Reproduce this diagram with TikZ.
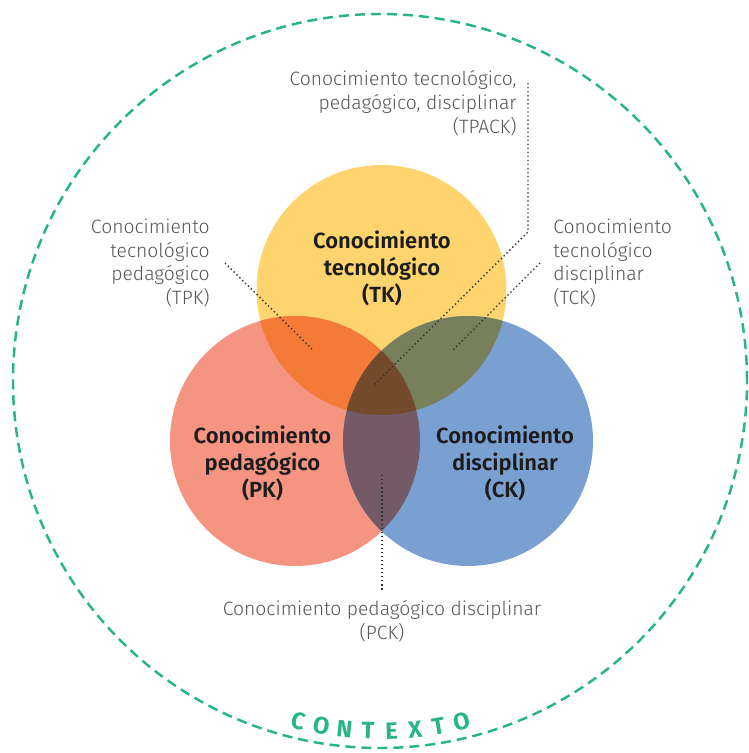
\documentclass[tikz,border=0pt]{standalone}
\usepackage{fontspec}
\setmainfont{Fira Sans}[UprightFont=* Light, BoldFont=* SemiBold]
\newfontfamily\ctxfont{Fira Sans}[UprightFont=* Bold]

\definecolor{tkyellow}{HTML}{FDD46E}
\definecolor{pkred}{HTML}{F59481}
\definecolor{ckblue}{HTML}{7AA0D2}
\definecolor{tpkorange}{HTML}{F37B37}
\definecolor{tckolive}{HTML}{77805A}
\definecolor{pckplum}{HTML}{735A66}
\definecolor{tpackbrown}{HTML}{744A2D}
\definecolor{ctxgreen}{HTML}{27B585}
\definecolor{labelgray}{HTML}{555555}
\definecolor{areatext}{HTML}{1C1C1C}

\begin{document}
\begin{tikzpicture}[
  area/.style={text=areatext, align=center, font=\fontsize{12.5}{15.3}\selectfont\bfseries},
  lbl/.style={text=labelgray, inner sep=0pt, font=\fontsize{11}{13.6}\selectfont},
  leader/.style={draw=black!80, line width=0.8pt, dash pattern=on 0.8pt off 1.5pt},
  ctx/.style={text=ctxgreen, inner sep=0pt, font=\fontsize{13.5}{15}\ctxfont}
]
\useasboundingbox (-7.6,-7.44) rectangle (7.38,7.62);

% Context
\draw[ctxgreen, line width=1.4pt, dash pattern=on 5.7pt off 3.4pt] (0,0) circle (7.34);

% Circle centres
\coordinate (tk) at (0.03, 1.82);
\coordinate (pk) at (-1.70, -1.2);
\coordinate (ck) at (1.76, -1.2);

\fill[tkyellow] (tk) circle (2.5);
\fill[pkred] (pk) circle (2.5);
\fill[ckblue] (ck) circle (2.5);

% Pairwise overlaps
\begin{scope}
  \clip (tk) circle (2.5);
  \fill[tpkorange] (pk) circle (2.5);
  \fill[tckolive] (ck) circle (2.5);
\end{scope}
\begin{scope}
  \clip (pk) circle (2.5);
  \fill[pckplum] (ck) circle (2.5);
\end{scope}
% Triple overlap
\begin{scope}
  \clip (tk) circle (2.5);
  \clip (pk) circle (2.5);
  \fill[tpackbrown] (ck) circle (2.5);
\end{scope}

% Circle labels
\node[area] (tklabel) at (0.04, 2.26) {Conocimiento\\tecnológico\\(TK)};
\node[area] (pklabel) at (-2.35, -1.64) {Conocimiento\\pedagógico\\(PK)};
\node[area] (cklabel) at (2.5, -1.64) {Conocimiento\\disciplinar\\(CK)};

% Outer labels
\node[lbl, anchor=east, align=right] (tpack) at (2.74, 5.55) {Conocimiento tecnológico,\\pedagógico, disciplinar\\(TPACK)};
\node[lbl, anchor=east, align=right] (tpk) at (-3.4, 2.36) {Conocimiento\\tecnológico\\pedagógico\\(TPK)};
\node[lbl, anchor=west, align=left] (tck) at (3.46, 2.36) {Conocimiento\\tecnológico\\disciplinar\\(TCK)};
\node[lbl, align=center] (pck) at (0.04, -4.8) {Conocimiento pedagógico disciplinar\\(PCK)};

% Leader ends
\coordinate (tpack-top) at (2.96, 5.96);
\coordinate (tpack-bend) at (2.96, 2.98);
\coordinate (tpack-end) at (-0.14, -0.1);
\coordinate (tpk-start) at (-3.1, 2.36);
\coordinate (tpk-end) at (-1.36, 0.64);
\coordinate (tck-start) at (3.2, 2.36);
\coordinate (tck-end) at (1.46, 0.62);
\coordinate (pck-start) at (0.04, -1.88);
\coordinate (pck-end) at (0.04, -4.22);

\draw[leader] (tpack-top) -- (tpack-bend) -- (tpack-end);
\draw[leader] (tpk-start) -- (tpk-end);
\draw[leader] (tck-start) -- (tck-end);
\draw[leader] (pck-start) -- (pck-end);

% CONTEXTO along the bottom arc
\foreach \letter [count=\i from 0] in {C,O,N,T,E,X,T,O} {
  \pgfmathsetmacro\ang{256.5+3.85*\i}
  \node[ctx, rotate=\ang-270] (ctx\i) at (\ang:7.0) {\letter};
}

\end{tikzpicture}
\end{document}
